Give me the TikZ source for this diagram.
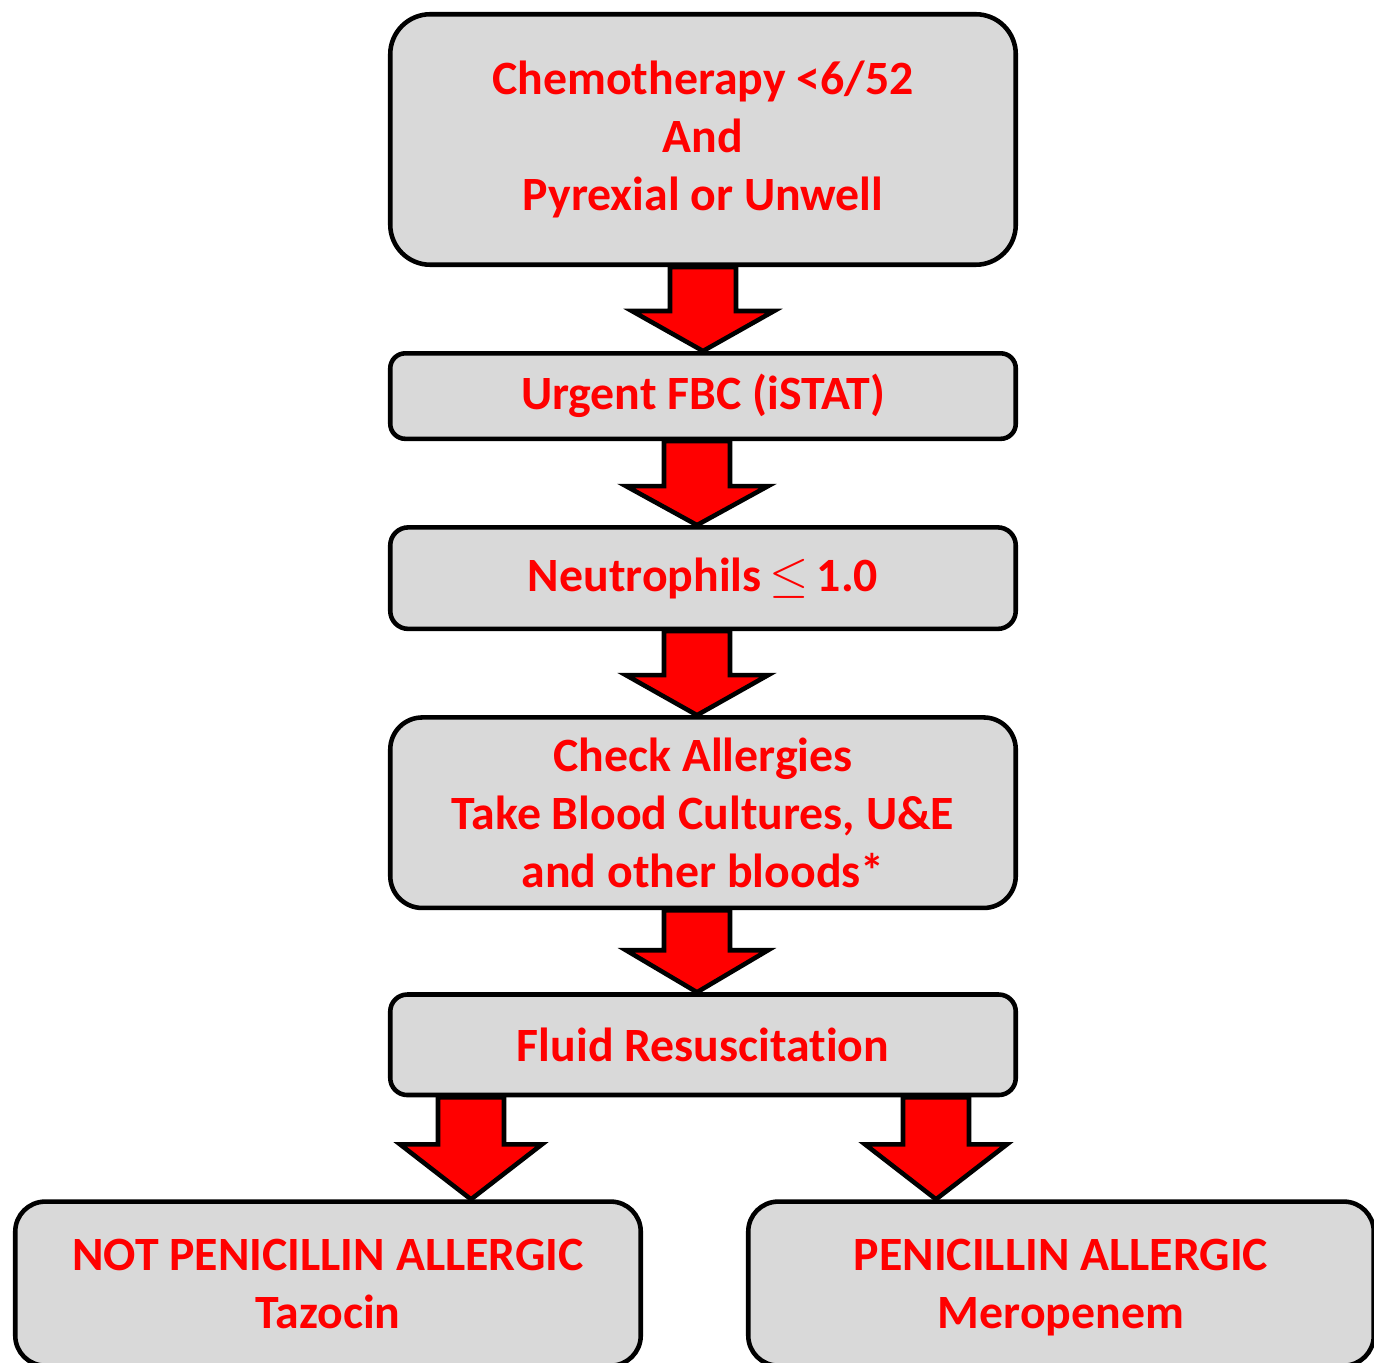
\documentclass[tikz,border=0pt]{standalone}
\usepackage{fontspec}
\setmainfont{Carlito}[Ligatures={NoCommon,NoContextual}]
\usetikzlibrary{positioning,calc}

\definecolor{boxgrey}{HTML}{D9D9D9}
\definecolor{alarmred}{HTML}{FF0000}

\tikzset{
  box/.style={draw=black, line width=1.3pt, fill=boxgrey, text=alarmred, align=center,
    minimum width=6.255cm, font=\bfseries\fontsize{13.6}{16.5}\selectfont},
  blockarrow/.style={draw=black, line width=1.3pt, fill=alarmred}
}

% from, to, shift of the tip, length of the head
\newcommand{\fatarrow}[4]{%
  \draw[blockarrow] let \p1=(#1.south), \p2=([xshift=#3]#2.north) in
    (\x2-0.33cm,\y1) -- (\x2+0.33cm,\y1) -- (\x2+0.33cm,\y2+#4)
    -- (\x2+0.71cm,\y2+#4) -- (\x2,\y2) -- (\x2-0.71cm,\y2+#4)
    -- (\x2-0.33cm,\y2+#4) -- cycle;}

\begin{document}
\begin{tikzpicture}[node distance=0.84cm]
\useasboundingbox (0,0) rectangle (13.74,-13.63);

\node[box, minimum height=2.505cm, rounded corners=0.4cm] (chemo) at (7.03,-1.395)
  {Chemotherapy <6/52\\And\\Pyrexial or Unwell};
\node[box, minimum height=0.855cm, rounded corners=0.15cm] (fbc) [below=of chemo]
  {Urgent FBC (iSTAT)};
\node[box, minimum height=1.015cm, rounded corners=0.18cm] (neut) [below=of fbc]
  {Neutrophils\,$\leq$\,1.0};
\node[box, minimum height=1.905cm, rounded corners=0.32cm] (allergy) [below=of neut]
  {Check Allergies\\Take Blood Cultures, U\&E\\and other bloods*};
\node[box, minimum height=1.005cm, rounded corners=0.17cm] (fluid) [below=0.82cm of allergy]
  {Fluid Resuscitation};
\node[box, minimum height=1.64cm, rounded corners=0.3cm, text depth=0pt] (notpen) [below=1.02cm of fluid, xshift=-3.75cm]
  {NOT PENICILLIN ALLERGIC\\Tazocin};
\node[box, minimum height=1.64cm, rounded corners=0.3cm, text depth=0pt] (pen) [below=1.02cm of fluid, xshift=3.58cm]
  {PENICILLIN ALLERGIC\\Meropenem};

\fatarrow{chemo}{fbc}{0cm}{0.40cm}
\fatarrow{fbc}{neut}{-0.06cm}{0.39cm}
\fatarrow{neut}{allergy}{-0.06cm}{0.40cm}
\fatarrow{allergy}{fluid}{-0.06cm}{0.42cm}
\fatarrow{fluid}{notpen}{1.43cm}{0.55cm}
\fatarrow{fluid}{pen}{-1.25cm}{0.55cm}
\end{tikzpicture}
\end{document}
